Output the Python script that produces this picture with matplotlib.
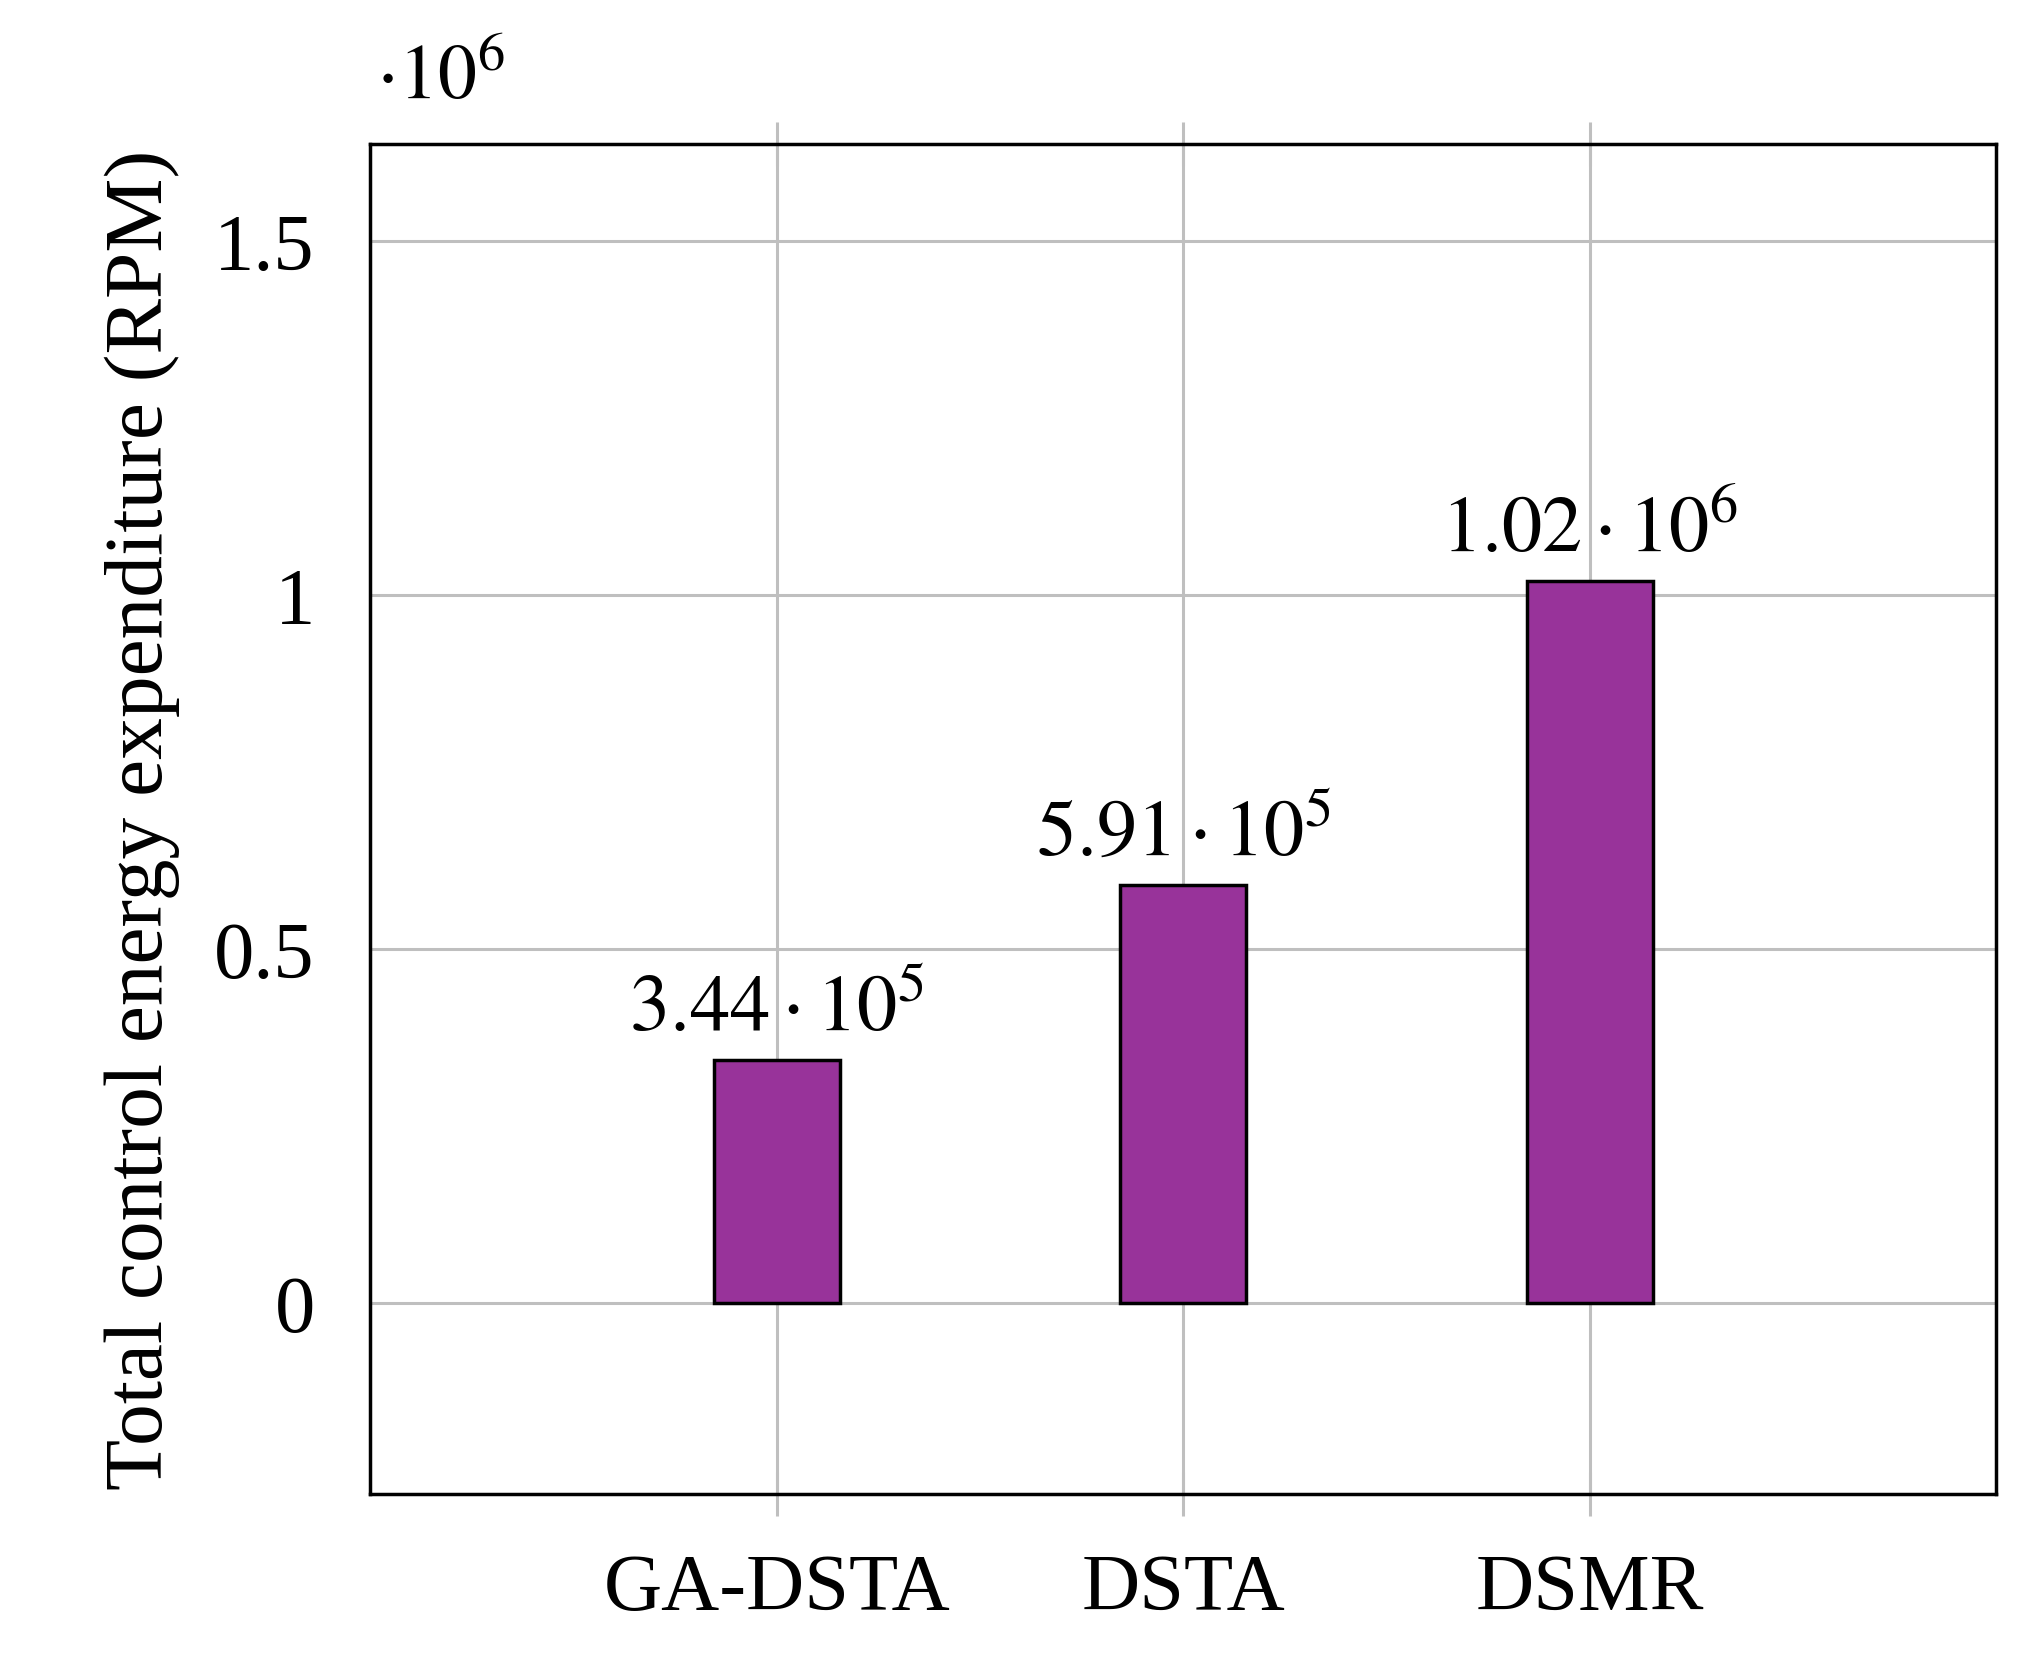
import matplotlib
matplotlib.use("Agg")
import matplotlib.pyplot as plt

methods = ["GA-DSTA", "DSTA", "DSMR"]
energy = [3.44e5, 5.91e5, 1.02e6]
bar_labels = [r"$3.44\cdot10^{5}$", r"$5.91\cdot10^{5}$", r"$1.02\cdot10^{6}$"]
yticks = [0, 0.5e6, 1e6, 1.5e6]
ytick_labels = ["0", "0.5", "1", "1.5"]

plt.rcParams["font.family"] = ["Liberation Serif", "DejaVu Serif"]
plt.rcParams["mathtext.fontset"] = "stix"

fig = plt.figure(figsize=(20.35, 16.56), dpi=100)
ax = fig.add_axes([0.182, 0.097, 0.799, 0.8156])

x = range(len(methods))
ax.bar(x, energy, width=0.31, color="#98339A", edgecolor="black", linewidth=2.5, zorder=3)
for xi, v, lab in zip(x, energy, bar_labels):
    ax.text(xi, v + 0.02e6, lab, ha="center", va="bottom", fontsize=58, zorder=4)

ax.set_xlim(-1, 3)
ax.set_ylim(-0.27e6, 1.638e6)
ax.set_xticks(list(x))
ax.set_xticklabels(methods)
ax.set_yticks(yticks)
ax.set_yticklabels(ytick_labels)
ax.grid(True, color="#bfbfbf", linewidth=2.2, zorder=0)
ax.tick_params(axis="both", direction="inout", length=32, width=2.2, color="#bfbfbf",
               labelsize=58, top=True, right=True, pad=10)
ax.tick_params(axis="y", length=0, pad=40)
ax.tick_params(axis="x", pad=26)
for s in ax.spines.values():
    s.set_linewidth(2.5)
ax.set_ylabel("Total control energy expenditure (RPM)", fontsize=60, labelpad=25)
fig.text(0.185, 0.93, r"$\cdot10^{6}$", fontsize=56, ha="left", va="bottom")

fig.savefig("out.png", dpi=100)
